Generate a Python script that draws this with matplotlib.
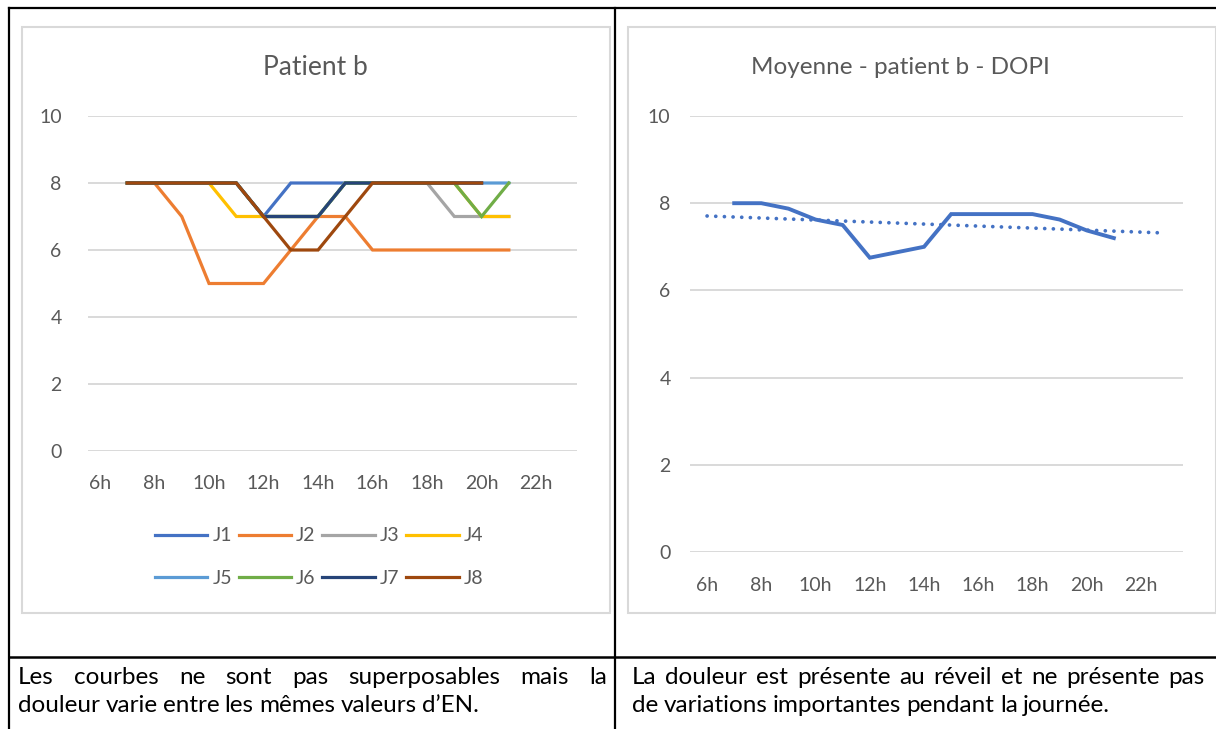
import numpy as np
import matplotlib
matplotlib.use("Agg")
import matplotlib.pyplot as plt
from matplotlib.patches import Rectangle

plt.rcParams['font.family'] = ['Lato', 'DejaVu Sans']

# --- DONNÉES ---
heures = [7, 8, 9, 10, 11, 12, 13, 14, 15, 16, 17, 18, 19, 20, 21]
nan = np.nan
J1 = [8, 8, 8, 8, 8, 7, 8, 8, 8, 8, 8, 8, 8, 8, nan]
J2 = [8, 8, 7, 5, 5, 5, 6, 7, 7, 6, 6, 6, 6, 6, 6]
J3 = [8, 8, 8, 8, 8, 7, 7, 7, 8, 8, 8, 8, 7, 7, 7]
J4 = [8, 8, 8, 8, 7, 7, 7, 7, 8, 8, 8, 8, 8, 7, 7]
J5 = [8, 8, 8, 8, 8, 7, 7, 7, 8, 8, 8, 8, 8, 8, 8]
J6 = [8, 8, 8, 8, 8, 7, 7, 7, 8, 8, 8, 8, 8, 7, 8]
J7 = [8, 8, 8, 8, 8, 7, 7, 7, 8, 8, 8, 8, 8, 8, nan]
J8 = [8, 8, 8, 8, 8, 7, 6, 6, 7, 8, 8, 8, 8, 8, nan]
jours = ['J1', 'J2', 'J3', 'J4', 'J5', 'J6', 'J7', 'J8']
series = [J1, J2, J3, J4, J5, J6, J7, J8]
couleurs = ['#4472C4', '#ED7D31', '#A5A5A5', '#FFC000',
            '#5B9BD5', '#70AD47', '#264478', '#9E480E']

moyenne = [8, 8, 7.875, 7.625, 7.5, 6.75, 6.875, 7, 7.75, 7.75, 7.75, 7.75, 7.625, 7.375, 7.2]

ticks_x = [6, 8, 10, 12, 14, 16, 18, 20, 22]
labels_x = ['6h', '8h', '10h', '12h', '14h', '16h', '18h', '20h', '22h']
ticks_y = [0, 2, 4, 6, 8, 10]

titre_g = "Patient b"
titre_d = "Moyenne - patient b - DOPI"
texte_g = ["Les courbes ne sont pas superposables mais la",
           "douleur varie entre les mêmes valeurs d’EN."]
texte_d = ["La douleur est présente au réveil et ne présente pas",
           "de variations importantes pendant la journée."]
# -----------------

W, H = 1216, 729
GRIS_TXT = '#595959'
GRILLE = '#D9D9D9'
TAILLE_TXT = 17.5

fig = plt.figure(figsize=(W / 100, H / 100), dpi=100)

# fond en coordonnées pixels (tableau + cadres)
bg = fig.add_axes([0, 0, 1, 1])
bg.set_xlim(0, W)
bg.set_ylim(H, 0)
bg.axis('off')


def px_axes(x0, x1, y_top, y_bot):
    return fig.add_axes([x0 / W, (H - y_bot) / H, (x1 - x0) / W, (y_bot - y_top) / H])


def style_axes(ax, xlim, pad_y, pad_x):
    ax.set_xlim(*xlim)
    ax.set_ylim(0, 10)
    ax.set_yticks(ticks_y)
    ax.set_xticks(ticks_x)
    ax.set_xticklabels(labels_x)
    for s in ax.spines.values():
        s.set_visible(False)
    ax.grid(axis='y', color=GRILLE, lw=1.4)
    ax.set_axisbelow(True)
    ax.tick_params(axis='both', length=0, labelsize=14, labelcolor=GRIS_TXT)
    ax.tick_params(axis='y', pad=pad_y)
    ax.tick_params(axis='x', pad=pad_x)
    ax.patch.set_alpha(0)


# cadres gris des graphiques
bg.add_patch(Rectangle((22, 27), 588, 586, fill=False, ec=GRILLE, lw=1.5))
bg.add_patch(Rectangle((628, 27), 588, 586, fill=False, ec=GRILLE, lw=1.5))

# lignes du tableau
bg.plot([9, W], [8, 8], color='black', lw=1.6)
bg.plot([9, 9], [8, H], color='black', lw=1.6)
bg.plot([615, 615], [8, H], color='black', lw=1.6)
bg.plot([9, W], [657, 657], color='black', lw=1.8)

# --- graphique de gauche ---
ax1 = px_axes(88, 577, 116, 451)
style_axes(ax1, (5.56, 23.5), 19, 17)
lignes = []
for nom, y, c in zip(jours, series, couleurs):
    l, = ax1.plot(heures, y, color=c, lw=2.3, label=nom, solid_joinstyle='miter')
    lignes.append(l)
bg.text(315, 67, titre_g, ha='center', va='center', fontsize=19, color=GRIS_TXT)
# légende remplie ligne par ligne (matplotlib remplit par colonnes)
ordre = [0, 4, 1, 5, 2, 6, 3, 7]
leg = ax1.legend([lignes[i] for i in ordre], [jours[i] for i in ordre],
                 loc='center', bbox_to_anchor=(319 / W, 1 - 557 / H),
                 bbox_transform=fig.transFigure, ncol=4, frameon=False,
                 fontsize=14, handlelength=2.7, handletextpad=0.25,
                 columnspacing=0.35, labelspacing=1.3)
for t in leg.get_texts():
    t.set_color(GRIS_TXT)

# --- graphique de droite ---
ax2 = px_axes(690, 1183, 116, 552)
style_axes(ax2, (5.37, 23.55), 14, 18)
ax2.plot(heures, moyenne, color='#4472C4', lw=2.8, solid_joinstyle='miter')
a, b = np.polyfit(heures, moyenne, 1)
xt = np.array([6, 22.8])
ax2.plot(xt, a * xt + b, color='#4472C4', lw=2.7, linestyle=(0, (0.01, 2.3)),
         dash_capstyle='round')
bg.text(900, 67, titre_d, ha='center', va='center', fontsize=17.5, color=GRIS_TXT)

# --- texte du tableau (justifié sur la première ligne) ---
fig.canvas.draw()
rend = fig.canvas.get_renderer()


def ligne(texte, x0, x1, y, justifie):
    mots = texte.split(' ')
    objs = [bg.text(0, y, m, ha='left', va='center', fontsize=TAILLE_TXT, color='black')
            for m in mots]
    inv = bg.transData.inverted()
    larg = []
    for o in objs:
        bb = o.get_window_extent(renderer=rend)
        p0 = inv.transform((bb.x0, bb.y0))
        p1 = inv.transform((bb.x1, bb.y0))
        larg.append(p1[0] - p0[0])
    if justifie:
        esp = (x1 - x0 - sum(larg)) / (len(mots) - 1)
    else:
        esp = 0.22 * TAILLE_TXT * 100 / 72
    x = x0
    for o, l in zip(objs, larg):
        o.set_x(x)
        x += l + esp


ligne(texte_g[0], 18, 607, 677, True)
ligne(texte_g[1], 18, 607, 706, False)
ligne(texte_d[0], 632, 1205, 677, True)
ligne(texte_d[1], 632, 1205, 706, False)

fig.savefig('out.png', dpi=100)
